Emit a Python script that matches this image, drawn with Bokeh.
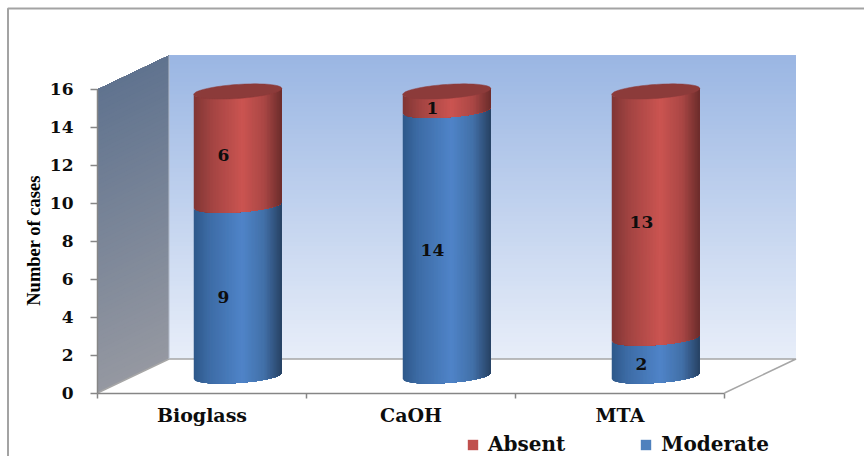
import numpy as np
from bokeh.core.properties import value
from bokeh.embed import file_html
from bokeh.models import FixedTicker, Legend, LegendItem, LinearAxis, Range1d
from bokeh.plotting import figure
from bokeh.resources import INLINE

# Chart data
categories = ["Bioglass", "CaOH", "MTA"]
moderate = [9, 14, 2]
absent = [6, 1, 13]
y_ticks = [0, 2, 4, 6, 8, 10, 12, 14, 16]
y_max = 16

# Page layout: pixel scale of the front plane, and the 3D depth of the box
W, H = 864, 456
ORIGIN_X, ORIGIN_Y = 97.0, 392.5
UNIT_X, UNIT_Y = 209.0, 18.97
DEPTH_X, DEPTH_Y = 71.5 / UNIT_X, 34.0 / UNIT_Y
BAR_DEPTH = 0.5
LABEL_DEPTH = 0.3
BAR_HALF_W = 44.0 / UNIT_X
ARC_B = 7.0 / UNIT_Y
ARC_TILT = 3.0 / UNIT_Y

p = figure(
    width=W, height=H, output_backend="svg", toolbar_location=None,
    x_range=Range1d(-ORIGIN_X / UNIT_X, (W - ORIGIN_X) / UNIT_X),
    y_range=Range1d((ORIGIN_Y - H) / UNIT_Y, ORIGIN_Y / UNIT_Y),
    min_border=0, outline_line_color=None, background_fill_color="white",
    x_axis_type=None, y_axis_type=None,
)
p.xgrid.visible = False
p.ygrid.visible = False


def lerp_hex(stops, t):
    """Colour at position t along a list of (position, (r, g, b)) stops."""
    pos = [s[0] for s in stops]
    rgb = [np.interp(t, pos, [s[1][c] for s in stops]) for c in range(3)]
    return "#%02x%02x%02x" % tuple(int(round(c)) for c in rgb)


def px_x(px):
    return (px - ORIGIN_X) / UNIT_X


def px_y(px):
    return (ORIGIN_Y - px) / UNIT_Y


# Outer chart border: left and top edges only
BORDER = "#a3a3a3"
p.line([px_x(7.5), px_x(7.5), px_x(W)], [px_y(H), px_y(8), px_y(8)],
       line_color=BORDER, line_width=2)

# Back wall, vertical gradient. Each band runs up to the top of the wall and the
# next one paints over it, which keeps the joins free of hairlines.
WALL_BANDS = 70
edges = np.linspace(0, y_max, WALL_BANDS + 1)
back_stops = [(0, (0xe8, 0xee, 0xf9)), (1, (0x9a, 0xb6, 0xe3))]
p.quad(
    left=DEPTH_X, right=len(categories) + DEPTH_X,
    bottom=edges[:-1] + DEPTH_Y, top=y_max + DEPTH_Y,
    fill_color=[lerp_hex(back_stops, (e + y_max / WALL_BANDS / 2) / y_max) for e in edges[:-1]],
    line_color=None,
)

# Left side wall, painted the same way
side_stops = [(0, (0x95, 0x98, 0xa1)), (1, (0x60, 0x73, 0x8f))]
xs, ys, side_cols = [], [], []
for lo, hi in zip(edges[:-1], edges[1:]):
    xs.append([0, DEPTH_X, DEPTH_X, 0])
    ys.append([lo, lo + DEPTH_Y, y_max + DEPTH_Y, y_max])
    side_cols.append(lerp_hex(side_stops, (lo + hi) / 2 / y_max))
p.patches(xs, ys, fill_color=side_cols, line_color=None)

# Floor outline
FLOOR = "#a6a6a6"
n = len(categories)
p.line([0, DEPTH_X, n + DEPTH_X, n], [0, DEPTH_Y, DEPTH_Y, 0], line_color=FLOOR, line_width=1.5)
p.line([DEPTH_X, DEPTH_X], [DEPTH_Y, y_max + DEPTH_Y], line_color="#b4bccb", line_width=1)

# Cylinders, built from overlapping vertical strips for the round shading
STRIPS = 60
blue_stops = [(0, (0x2e, 0x58, 0x8a)), (0.18, (0x3d, 0x6c, 0xa6)), (0.55, (0x4f, 0x84, 0xc8)),
              (0.8, (0x42, 0x70, 0xa8)), (1, (0x27, 0x41, 0x63))]
red_stops = [(0, (0x80, 0x35, 0x34)), (0.2, (0xa2, 0x44, 0x42)), (0.55, (0xcb, 0x54, 0x51)),
             (0.8, (0xaa, 0x47, 0x45)), (1, (0x6b, 0x2c, 0x2b))]
CAP = "#8c3b3a"


def front_arc(u):
    """Height offset of the near edge of a cylinder ring at u in [-1, 1]."""
    return -ARC_B * np.sqrt(np.clip(1 - u * u, 0, 1)) + ARC_TILT * u


def draw_segment(center, v0, v1, stops):
    us = np.linspace(-1, 1, STRIPS + 1)
    sx, sy, cols = [], [], []
    for j in range(STRIPS):
        run = us[j:]
        px = center + run * BAR_HALF_W
        sx.append(np.concatenate([px, px[::-1]]))
        sy.append(np.concatenate([v0 + front_arc(run), (v1 + front_arc(run))[::-1]]))
        cols.append(lerp_hex(stops, (us[j] + us[j + 1] + 2) / 4))
    p.patches(sx, sy, fill_color=cols, line_color=None)


for i in range(n):
    center = i + 0.5 + BAR_DEPTH * DEPTH_X
    base = BAR_DEPTH * DEPTH_Y
    draw_segment(center, base, base + moderate[i], blue_stops)
    draw_segment(center, base + moderate[i], base + moderate[i] + absent[i], red_stops)
    t = np.linspace(0, 2 * np.pi, 90)
    top = base + moderate[i] + absent[i]
    p.patch(center + BAR_HALF_W * np.cos(t),
            top + ARC_B * np.sin(t) + ARC_TILT * np.cos(t),
            fill_color=CAP, line_color=CAP, line_width=0.5)

# Value labels centred in each stack segment
LABEL_FONT = value("DejaVu Serif")
lx, ly, lt = [], [], []
for i in range(n):
    cx = i + 0.5 + LABEL_DEPTH * DEPTH_X
    off = LABEL_DEPTH * DEPTH_Y
    lx += [cx, cx]
    ly += [moderate[i] / 2 + off, moderate[i] + absent[i] / 2 + off]
    lt += [str(moderate[i]), str(absent[i])]
p.text(lx, ly, text=lt, text_font=LABEL_FONT, text_font_style="bold", text_font_size="17px",
       text_color="#0d0d0d", text_align="center", text_baseline="middle")

# Value axis on the front-left corner
AXIS = "#868686"
yaxis = LinearAxis(
    fixed_location=0, bounds=(0, y_max), ticker=FixedTicker(ticks=y_ticks),
    axis_line_color=AXIS, axis_line_width=1.5, major_tick_line_color=AXIS, major_tick_line_width=1.5,
    major_tick_in=0, major_tick_out=7, minor_tick_line_color=None, major_label_standoff=17,
    major_label_text_font="DejaVu Serif", major_label_text_font_style="bold",
    major_label_text_font_size="17px", major_label_text_color="#0d0d0d",
)
p.add_layout(yaxis, "left")

# Category axis: names at the category centres, short ticks on the boundaries
name_positions = [i + 0.5 for i in range(n)]
xaxis = LinearAxis(
    fixed_location=0, bounds=(0, n),
    ticker=FixedTicker(ticks=name_positions, minor_ticks=list(range(n + 1))),
    major_label_overrides=dict(zip(name_positions, categories)),
    axis_line_color=AXIS, axis_line_width=1.5,
    major_tick_line_color=None, major_tick_in=0, major_tick_out=0,
    minor_tick_line_color=AXIS, minor_tick_line_width=1.5, minor_tick_in=0, minor_tick_out=5,
    major_label_standoff=6,
    major_label_text_font="DejaVu Serif", major_label_text_font_style="bold",
    major_label_text_font_size="19px", major_label_text_color="#0d0d0d",
)
p.add_layout(xaxis, "below")

# Rotated value-axis title
p.text([px_x(33)], [px_y(240)], text=["Number of cases"], text_font=value("Liberation Serif"),
       text_font_style="bold", text_font_size="18.5px", text_color="#000000",
       text_align="center", text_baseline="middle", angle=np.pi / 2)

# Legend along the bottom edge; its keys come from zero-size quads outside the view
r_abs = p.quad(left=[-9], right=[-9], bottom=[-9], top=[-9], fill_color="#c0504d", line_color=None)
r_mod = p.quad(left=[-9], right=[-9], bottom=[-9], top=[-9], fill_color="#4f81bd", line_color=None)
legend = Legend(
    items=[LegendItem(label="Absent", renderers=[r_abs]), LegendItem(label="Moderate", renderers=[r_mod])],
    orientation="horizontal", location=(466, 0), background_fill_alpha=0, border_line_color=None,
    glyph_width=13, glyph_height=13, label_standoff=9, spacing=74, margin=0, padding=6,
    label_text_font="DejaVu Serif", label_text_font_style="bold", label_text_font_size="20px",
    label_text_color="#0d0d0d",
)
p.add_layout(legend, "center")

open("out.html", "w").write(file_html(p, INLINE))
